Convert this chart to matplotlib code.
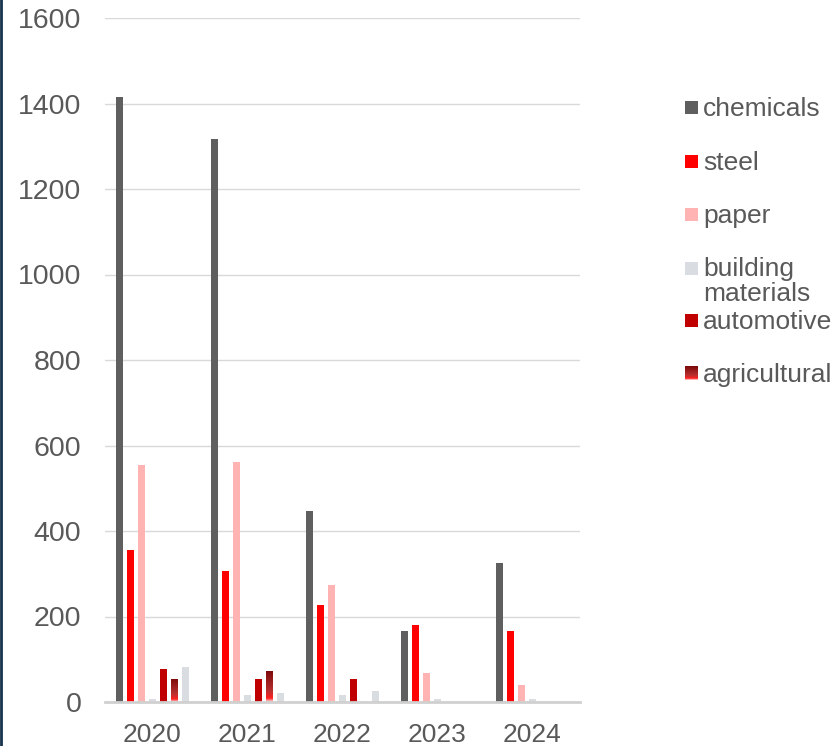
import matplotlib
matplotlib.use("Agg")
import matplotlib.pyplot as plt
import numpy as np
from matplotlib.colors import LinearSegmentedColormap
from matplotlib.patches import Rectangle
from matplotlib.lines import Line2D

plt.rcParams['font.family'] = ['Liberation Sans', 'DejaVu Sans']

years = ["2020", "2021", "2022", "2023", "2024"]
chemicals = [1415, 1317, 447, 166, 325]
steel = [356, 306, 227, 180, 166]
paper = [555, 561, 274, 68, 40]
building_materials = [7, 16, 16, 7, 7]
automotive = [77, 54, 54, 0, 0]
agricultural = [54, 73, 0, 0, 0]
other = [82, 21, 26, 0, 0]

series_names = ["chemicals", "steel", "paper", "building\nmaterials", "automotive", "agricultural"]
series_values = [chemicals, steel, paper, building_materials, automotive, agricultural, other]
colors = ["#5f5f5f", "#ff0000", "#ffb3b3", "#d9dde1", "#c00000", None, "#d9dde1"]

grad_cmap = LinearSegmentedColormap.from_list(
    "agri", [(0.0, "#ffe8e8"), (0.12, "#ff2020"), (0.35, "#b83030"), (1.0, "#7a0808")])

W, H = 837, 746
fig = plt.figure(figsize=(W / 100, H / 100), dpi=100)
ax = fig.add_axes([105 / W, 1 - 702 / H, (580 - 105) / W, (702 - 18) / H])

x = np.arange(len(years))
step = 11 / 95
bw = 6.5 / 95
grad = np.linspace(1, 0, 256).reshape(-1, 1)

for i, vals in enumerate(series_values):
    pos = x + (i - 3) * step
    if colors[i] is None:
        bars = ax.bar(pos, vals, width=bw, color="none", edgecolor="none", zorder=3)
        for b in bars:
            h = b.get_height()
            if h <= 0:
                continue
            bx0 = b.get_x()
            im = ax.imshow(grad, cmap=grad_cmap, aspect="auto",
                           extent=[bx0, bx0 + b.get_width(), 0, h], zorder=3,
                           vmin=0, vmax=1)
            im.set_clip_path(b)
    else:
        ax.bar(pos, vals, width=bw, color=colors[i], zorder=3)

ax.set_xlim(-0.5, len(years) - 0.5)
ax.set_ylim(0, 1600)
ax.set_yticks(np.arange(0, 1601, 200))
ax.set_xticks(x)
ax.set_xticklabels(years)
ax.grid(axis="y", color="#d9d9d9", linewidth=1, zorder=0)
ax.set_axisbelow(True)
for s in ["left", "right", "top"]:
    ax.spines[s].set_visible(False)
ax.spines["bottom"].set_color("#d0d0d0")
ax.spines["bottom"].set_linewidth(2)
ax.spines["bottom"].set_zorder(4)
ax.tick_params(axis="y", length=0, pad=17, labelsize=20.5, labelcolor="#595959")
ax.tick_params(axis="x", length=0, pad=15, labelsize=19, labelcolor="#595959")

# legend (manual)
leg_y = [107, 161, 214, 268, 320, 373]
for name, col, yc in zip(series_names, colors[:6], leg_y):
    sx, sw = 685, 13
    if col is None:
        lax = fig.add_axes([sx / W, 1 - (yc + 7) / H, sw / W, 14 / H])
        lax.imshow(grad, cmap=grad_cmap, aspect="auto", vmin=0, vmax=1)
        lax.axis("off")
    else:
        fig.patches.append(Rectangle((sx / W, 1 - (yc + 7) / H), sw / W, 13 / H,
                                     transform=fig.transFigure, facecolor=col,
                                     edgecolor="none"))
    if "\n" in name:
        fig.text(703 / W, 1 - (yc - 11) / H, name, fontsize=19, color="#595959",
                 va="top", ha="left", linespacing=1.05)
    else:
        fig.text(703 / W, 1 - (yc + 2) / H, name, fontsize=19, color="#595959",
                 va="center", ha="left")

# left border line
fig.add_artist(Line2D([1.5 / W, 1.5 / W], [0, 1], transform=fig.transFigure,
                      color="#17324a", linewidth=2))

fig.savefig("out.png", dpi=100)
